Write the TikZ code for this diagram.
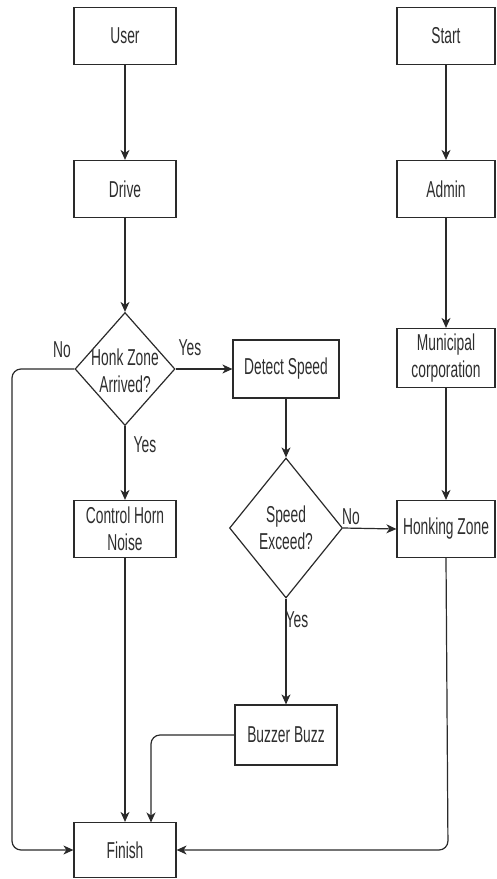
\documentclass[tikz,border=0pt]{standalone}
\usepackage{fontspec}
\setmainfont[FakeStretch=0.6]{Liberation Sans}
\usetikzlibrary{shapes.geometric,arrows.meta}
\definecolor{ln}{HTML}{2A2A2A}
\definecolor{tx}{HTML}{2E2E2E}
\begin{document}
\begin{tikzpicture}[x=1pt,y=-1pt,
  font=\fontsize{23}{27}\selectfont,
  box/.style={draw=ln,line width=1.2pt,minimum width=102pt,minimum height=57pt,inner sep=0pt,align=center,text=tx},
  dia/.style={draw=ln,line width=1.2pt,diamond,inner sep=0pt,minimum width=100pt,minimum height=113pt},
  txt/.style={align=center,text=tx,inner sep=0pt},
  arr/.style={draw=ln,line width=1.2pt,-{Stealth[length=10pt,width=9pt,inset=3pt]}},
  lbl/.style={text=tx,inner sep=0pt}]
\useasboundingbox (0,0) rectangle (496,879);
% left column
\node[box] (user) at (125,36) {User};
\node[box] (drive) at (125,189) {Drive};
\node[dia] (honk) at (125,369) {};
\node[txt] (honkt) at (125,371) {Honk Zone\\Arrived?};
\node[box] (control) at (125,529) {Control Horn\\Noise};
\node[box,minimum height=55pt] (finish) at (125,850) {Finish};
% middle column
\node[box,minimum width=106pt,minimum height=58pt] (detect) at (286,369) {Detect Speed};
\node[dia,minimum width=113pt,minimum height=140pt] (speed) at (286,528) {};
\node[txt] (speedt) at (286,528) {Speed\\Exceed?};
\node[box,minimum height=60pt] (buzzer) at (286,735) {Buzzer Buzz};
% right column
\node[box,minimum width=98pt] (start) at (446,36) {Start};
\node[box,minimum width=98pt] (admin) at (446,189) {Admin};
\node[box,minimum width=98pt,minimum height=59pt] (muni) at (446,358) {Municipal\\corporation};
\node[box,minimum width=98pt] (honking) at (446,529) {Honking Zone};
% connectors
\draw[arr] (user) -- (drive);
\draw[arr] (drive) -- (honk);
\draw[arr] (honk.east) -- (detect.west);
\draw[arr] (honk.south) -- (control);
\draw[arr,rounded corners=9pt] (honk.west) -- (12,369) -- (12,850) -- (finish.west);
\draw[arr] (detect) -- (speed.north);
\draw[arr] (speed.east) -- (honking.west);
\draw[arr] (speed.south) -- (buzzer);
\draw[arr] (start) -- (admin);
\draw[arr] (admin) -- (muni);
\draw[arr] (muni) -- (honking);
\draw[arr,rounded corners=9pt] (honking.south) -- (448,850) -- (finish.east);
\draw[arr] (control) -- (finish);
\draw[arr,rounded corners=9pt] (buzzer.west) -- (151,735) -- (151,822.5);
% labels
\node[lbl] (no1) at (62,350) {No};
\node[lbl] (yes1) at (190,348) {Yes};
\node[lbl] (yes2) at (145,445) {Yes};
\node[lbl] (no2) at (351,517) {No};
\node[lbl] (yes3) at (297,620) {Yes};
\end{tikzpicture}
\end{document}
